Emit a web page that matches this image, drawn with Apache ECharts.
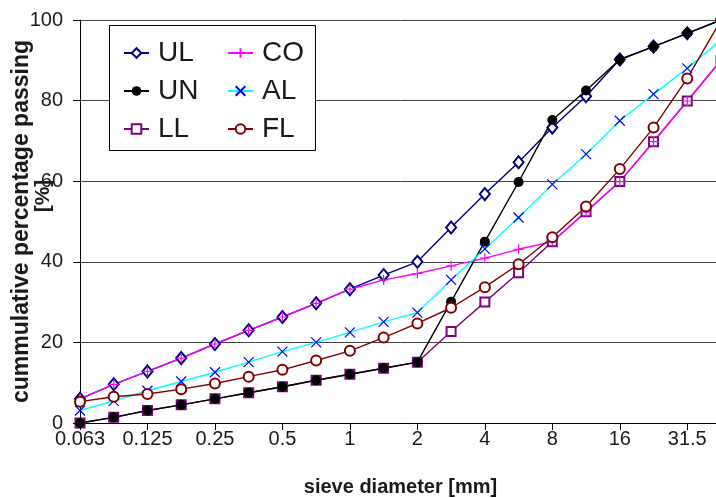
<!DOCTYPE html>
<html>
<head>
<meta charset="utf-8">
<script src="https://cdn.jsdelivr.net/npm/echarts@6/dist/echarts.min.js"></script>
<style>html,body{margin:0;padding:0;background:#fff;overflow:hidden;}#chart{width:721px;height:498px;}</style>
</head>
<body>
<div id="chart"></div>
<script>
// sieve sizes [mm] (category axis); labels shown on every second one
var categories = ['0.063','0.09','0.125','0.18','0.25','0.355','0.5','0.71','1','1.4','2','2.8','4','5.6','8','11.2','16','22.4','31.5','45'];
var yTicks = [0, 20, 40, 60, 80, 100];

var UL = [6.0, 9.6, 12.8, 16.1, 19.6, 23.0, 26.3, 29.7, 33.2, 36.7, 40.0, 48.5, 56.8, 64.7, 73.3, 81.1, 90.2, 93.4, 96.7, 100];
var UN = [0, 1.4, 3.1, 4.5, 6.0, 7.5, 9.0, 10.6, 12.1, 13.6, 15.1, 30.1, 45.0, 59.8, 75.2, 82.5, 90.2, 93.4, 96.7, 100];
var LL = [0, 1.4, 3.1, 4.5, 6.0, 7.5, 9.0, 10.6, 12.1, 13.6, 15.1, 22.7, 30.0, 37.3, 45.0, 52.4, 59.9, 69.8, 79.9, 90];
var CO = [6.0, 9.6, 12.8, 16.1, 19.6, 23.0, 26.3, 29.7, 33.2, 35.5, 37.1, 39.0, 40.9, 43.1, 45.0, 52.4, 59.9, 69.8, 79.9, 90];
var AL = [3.1, 5.5, 8.0, 10.3, 12.6, 15.1, 17.7, 20.0, 22.5, 25.1, 27.4, 35.5, 43.2, 51.0, 59.2, 66.7, 75.0, 81.6, 88.0, 95];
var FL = [5.3, 6.5, 7.2, 8.4, 9.8, 11.5, 13.2, 15.5, 17.9, 21.2, 24.7, 28.6, 33.7, 39.4, 46.1, 53.7, 63.0, 73.3, 85.5, 100];

var FONT = 'Liberation Sans, Arial, sans-serif';
var PLUS = 'path://M5,0 L5,10 M0,5 L10,5';
var CROSS = 'path://M0,0 L10,10 M10,0 L0,10';

function mk(name, data, lineColor, symbol, size, itemStyle, z) {
  return {
    name: name, type: 'line', data: data, z: z,
    symbol: symbol, symbolSize: size, showAllSymbol: true,
    lineStyle: {color: lineColor, width: 1.4},
    itemStyle: itemStyle,
    emphasis: {disabled: true},
    animation: false
  };
}

var chart = echarts.init(document.getElementById('chart'), null, {renderer: 'canvas'});
chart.setOption({
  backgroundColor: '#fff',
  animation: false,
  grid: {left: 80, right: 0, top: 20, bottom: 75, containLabel: false, outerBoundsMode: 'none'},
  xAxis: {
    type: 'category', data: categories, boundaryGap: false,
    name: 'sieve diameter [mm]', nameLocation: 'middle', nameGap: 54, nameMoveOverlap: false,
    nameTextStyle: {fontFamily: FONT, fontSize: 20, fontWeight: 'bold', color: '#1a1a1a'},
    axisLine: {lineStyle: {color: '#000', width: 1}},
    axisTick: {show: true, interval: 1, length: 7, inside: false, lineStyle: {color: '#000'}},
    axisLabel: {interval: function (i) { return i % 2 === 0; }, margin: 6, fontFamily: FONT, fontSize: 20, color: '#1a1a1a'},
    splitLine: {show: false}
  },
  yAxis: {
    type: 'value', min: yTicks[0], max: yTicks[yTicks.length - 1], interval: 20,
    name: 'cummulative percentage passing', nameLocation: 'middle', nameGap: 47, nameMoveOverlap: false,
    nameTextStyle: {fontFamily: FONT, fontSize: 23, fontWeight: 'bold', color: '#1a1a1a'},
    axisLine: {show: true, lineStyle: {color: '#000', width: 1}},
    axisTick: {show: true, length: 7, lineStyle: {color: '#000'}},
    axisLabel: {margin: 17, fontFamily: FONT, fontSize: 20, color: '#1a1a1a'},
    splitLine: {show: true, lineStyle: {color: '#444', width: 1}}
  },
  legend: [
    {data: ['UL', 'UN', 'LL'], orient: 'vertical', left: 123, top: 39, padding: 0, itemGap: 10,
     itemWidth: 25, itemHeight: 12, z: 10, selectedMode: false,
     textStyle: {fontFamily: FONT, fontSize: 28, color: '#1a1a1a', padding: [0, 0, 0, 4]}},
    {data: ['CO', 'AL', 'FL'], orient: 'vertical', left: 227, top: 39, padding: 0, itemGap: 10,
     itemWidth: 25, itemHeight: 12, z: 10, selectedMode: false,
     textStyle: {fontFamily: FONT, fontSize: 28, color: '#1a1a1a', padding: [0, 0, 0, 4]}}
  ],
  graphic: [
    {type: 'rect', z: 5, shape: {x: 109.5, y: 25.5, width: 206, height: 125},
     style: {fill: '#fff', stroke: '#000', lineWidth: 1}},
    {type: 'text', z: 5, x: 43, y: 196, rotation: Math.PI / 2,
     style: {text: '[%]', fontFamily: FONT, fontSize: 21, fontWeight: 'bold', fill: '#1a1a1a',
             align: 'center', verticalAlign: 'middle'}}
  ],
  series: [
    mk('UL', UL, '#000080', 'emptyDiamond', [10, 12], {color: '#000080', borderWidth: 1}, 2),
    mk('LL', LL, '#800080', 'emptyRect', 9, {color: '#800080', borderWidth: 1}, 2),
    mk('UN', UN, '#000000', 'circle', 10, {color: '#000000'}, 2),
    mk('CO', CO, '#FF00FF', PLUS, 10, {color: '#FF00FF', borderColor: '#FF00FF', borderWidth: 1.2}, 2),
    mk('AL', AL, '#00FFFF', CROSS, 10, {color: '#0000FF', borderColor: '#0000FF', borderWidth: 1.2}, 2),
    mk('FL', FL, '#800000', 'emptyCircle', 10, {color: '#800000', borderWidth: 1}, 2)
  ]
});
</script>
</body>
</html>
